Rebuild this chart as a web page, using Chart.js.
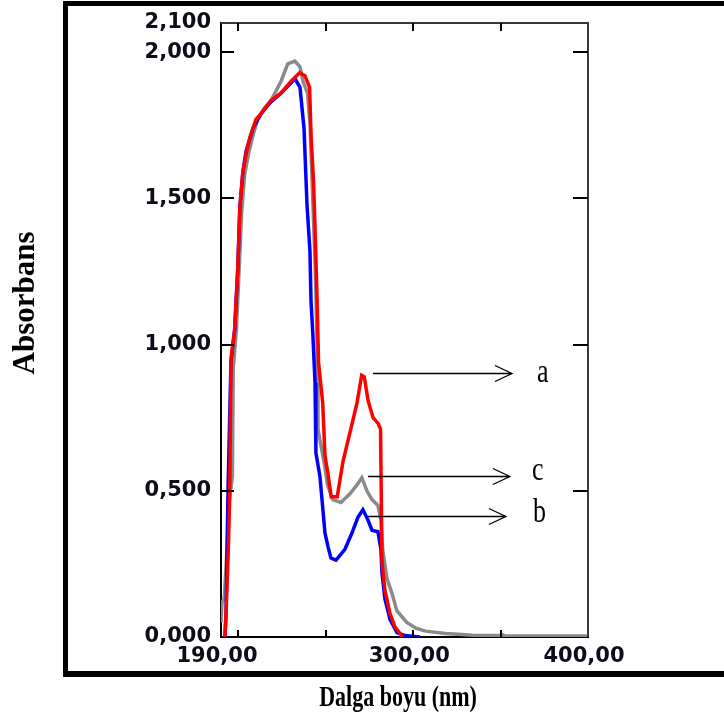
<!DOCTYPE html>
<html><head><meta charset="utf-8">
<script src="https://cdn.jsdelivr.net/npm/chart.js@4"></script>
<style>html,body{margin:0;padding:0;background:#fff}</style>
</head><body>
<canvas id="c" width="724" height="728"></canvas>
<script>
// Series a (red)
const waveA = [192.2,193.0,194.2,195.0,195.7,197.8,199.6,200.8,202.5,204.3,206.6,210.0,212.9,218.6,224.3,230.0,235.0,238.0,240.7,241.5,243.0,243.8,245.0,245.8,248.2,249.5,251.2,253.0,256.5,259.8,263.8,267.8,270.5,272.0,274.1,277.0,280.0,281.3,282.1,283.8,286.7,289.5,294.0];
const absA  = [0.00,0.10,0.30,0.49,0.95,1.05,1.26,1.47,1.59,1.65,1.71,1.77,1.79,1.835,1.86,1.90,1.93,1.92,1.88,1.72,1.55,1.40,1.15,0.94,0.80,0.62,0.56,0.48,0.48,0.60,0.70,0.80,0.895,0.89,0.81,0.75,0.73,0.71,0.26,0.16,0.08,0.035,0.00];
// Series b (blue)
const waveB = [192.3,192.9,194.0,195.7,197.8,199.6,200.8,202.5,204.3,208.3,212.9,218.6,224.3,230.0,232.3,235.2,237.5,239.2,240.9,241.5,242.6,243.8,244.3,246.6,247.8,249.5,251.2,252.9,255.8,260.9,264.9,268.4,271.2,274.1,276.4,279.8,281.5,282.1,283.8,286.7,290.7,295.3,303.8];
const absB  = [0.00,0.08,0.495,0.94,1.05,1.26,1.47,1.59,1.66,1.74,1.79,1.83,1.86,1.895,1.91,1.88,1.74,1.48,1.32,1.15,1.03,0.87,0.63,0.55,0.47,0.355,0.31,0.27,0.263,0.30,0.355,0.41,0.435,0.40,0.365,0.36,0.30,0.22,0.13,0.06,0.015,0.005,0.00];
// Series c (gray)
const waveC = [190.0,190.6,191.8,193.0,194.5,196.5,197.0,198.8,200.4,201.8,203.5,206.0,208.5,211.0,215.0,218.6,224.3,228.2,232.3,235.2,236.9,239.5,241.0,242.5,244.0,245.0,245.5,248.9,251.0,254.0,258.6,263.8,267.8,270.6,273.5,276.4,279.8,281.5,282.5,285.0,287.8,290.6,296.3,301.5,307.0,318.6,334.0,350.0,351.0,352.5,400.0];
const absC  = [0.05,0.12,0.13,0.25,0.45,0.55,0.92,1.05,1.26,1.45,1.58,1.66,1.72,1.77,1.81,1.835,1.90,1.96,1.97,1.95,1.90,1.86,1.75,1.50,1.25,1.00,0.71,0.60,0.52,0.47,0.46,0.49,0.52,0.545,0.50,0.47,0.45,0.40,0.30,0.20,0.15,0.09,0.05,0.03,0.02,0.012,0.006,0.005,0.008,0.004,0.003];

// Axis ticks
const xTickLabels = [190, 300, 400];
const xTickMarks  = [200, 250, 300, 350];
const yTickLabels = [0, 0.5, 1, 1.5, 2, 2.1];
const yTickMarks  = [0.5, 1, 1.5, 2];
const xTitle = 'Dalga boyu (nm)';
const yTitle = 'Absorbans';

// Annotations (arrows with letters), in data units
const annText   = ['a', 'c', 'b'];
const annFromX  = [277.0, 274.1, 274.1];
const annToX    = [356.5, 355.3, 353.0];
const annY      = [0.902, 0.550, 0.414];
const annTextX  = [370.8, 367.9, 368.5];
const annTextY  = [0.871, 0.537, 0.393];

const toXY = (xs, ys) => xs.map((x, i) => ({x, y: ys[i]}));

const decor = {
  id: 'decor',
  afterDraw(chart) {
    const {ctx, chartArea: ca, scales: {x, y}} = chart;
    ctx.save();
    // top & right border of plot
    ctx.strokeStyle = '#3a3a3a';
    ctx.lineWidth = 2;
    ctx.beginPath();
    ctx.moveTo(ca.left, ca.top); ctx.lineTo(ca.right, ca.top); ctx.lineTo(ca.right, ca.bottom);
    ctx.stroke();
    // inward tick marks
    ctx.strokeStyle = '#000';
    ctx.lineWidth = 2;
    ctx.beginPath();
    yTickMarks.forEach(v => {
      const py = Math.round(y.getPixelForValue(v));
      ctx.moveTo(ca.left, py); ctx.lineTo(ca.left + 13, py);
      ctx.moveTo(ca.right - 15, py); ctx.lineTo(ca.right, py);
    });
    xTickMarks.forEach(v => {
      const px = Math.round(x.getPixelForValue(v));
      ctx.moveTo(px, ca.bottom); ctx.lineTo(px, ca.bottom - 7);
      ctx.moveTo(px, ca.top); ctx.lineTo(px, ca.top + 8);
    });
    ctx.stroke();
    // annotations
    ctx.lineWidth = 1.3;
    ctx.strokeStyle = '#000';
    ctx.fillStyle = '#000';
    annText.forEach((t, i) => {
      const x0 = x.getPixelForValue(annFromX[i]);
      const x1 = x.getPixelForValue(annToX[i]);
      const py = Math.round(y.getPixelForValue(annY[i])) + 0.5;
      ctx.beginPath();
      ctx.moveTo(x0, py); ctx.lineTo(x1, py);
      ctx.moveTo(x1 - 17, py - 8); ctx.lineTo(x1, py); ctx.lineTo(x1 - 17, py + 8);
      ctx.stroke();
      const tx = x.getPixelForValue(annTextX[i]);
      const ty = y.getPixelForValue(annTextY[i]);
      ctx.save();
      ctx.translate(tx, ty);
      ctx.scale(1, 1.3);
      ctx.font = '26px "Liberation Serif"';
      ctx.textAlign = 'left';
      ctx.textBaseline = 'alphabetic';
      ctx.fillText(t, 0, 0);
      ctx.restore();
    });
    // outer frame
    ctx.fillStyle = '#000';
    ctx.fillRect(63, 1, 661, 5);
    ctx.fillRect(63, 1, 5, 676);
    ctx.fillRect(63, 671, 661, 6);
    // y axis title
    ctx.save();
    ctx.translate(26, 303);
    ctx.rotate(-Math.PI / 2);
    ctx.font = 'bold 31px "Liberation Serif"';
    ctx.textAlign = 'center';
    ctx.textBaseline = 'middle';
    ctx.fillText(yTitle, 0, 0);
    ctx.restore();
    // x axis title
    ctx.save();
    ctx.translate(398, 706);
    ctx.scale(1, 1.3);
    ctx.font = 'bold 22px "Liberation Serif"';
    ctx.textAlign = 'center';
    ctx.textBaseline = 'alphabetic';
    ctx.fillText(xTitle, 0, 0);
    ctx.restore();
    ctx.restore();
  }
};

const tickFont = {family: '"DejaVu Sans"', size: 21, weight: 'bold', lineHeight: 1.2};

new Chart(document.getElementById('c'), {
  type: 'line',
  data: {
    datasets: [
      {label: 'a', data: toXY(waveA, absA), borderColor: '#ff0000', borderWidth: 3.5, order: 1},
      {label: 'b', data: toXY(waveB, absB), borderColor: '#0000ff', borderWidth: 3.5, order: 2},
      {label: 'c', data: toXY(waveC, absC), borderColor: '#8a8a8a', borderWidth: 3.5, order: 3}
    ]
  },
  options: {
    responsive: false,
    animation: false,
    elements: {point: {radius: 0}, line: {tension: 0, fill: false, borderJoinStyle: 'miter', borderCapStyle: 'butt'}},
    layout: {padding: {left: 0, right: 136, top: 23, bottom: 0}},
    plugins: {legend: {display: false}, tooltip: {enabled: false}},
    scales: {
      x: {
        type: 'linear', min: 190, max: 400,
        grid: {display: false, drawTicks: false},
        border: {display: true, color: '#000', width: 2},
        afterBuildTicks: s => { s.ticks = xTickLabels.map(v => ({value: v})); },
        afterFit: s => { s.height = 91; },
        ticks: {
          autoSkip: false, maxRotation: 0, padding: 7, labelOffset: -4,
          color: '#0d0d1a', font: tickFont,
          callback: v => v.toFixed(2).replace('.', ',')
        }
      },
      y: {
        type: 'linear', min: 0, max: 2.1,
        grid: {display: false, drawTicks: false},
        border: {display: true, color: '#000', width: 2},
        afterBuildTicks: s => { s.ticks = yTickLabels.map(v => ({value: v})); },
        afterFit: s => { s.width = 221; },
        ticks: {
          autoSkip: false, padding: 10,
          color: '#0d0d1a', font: tickFont,
          callback: v => v.toFixed(3).replace('.', ',')
        }
      }
    }
  },
  plugins: [decor]
});
</script>
</body></html>
